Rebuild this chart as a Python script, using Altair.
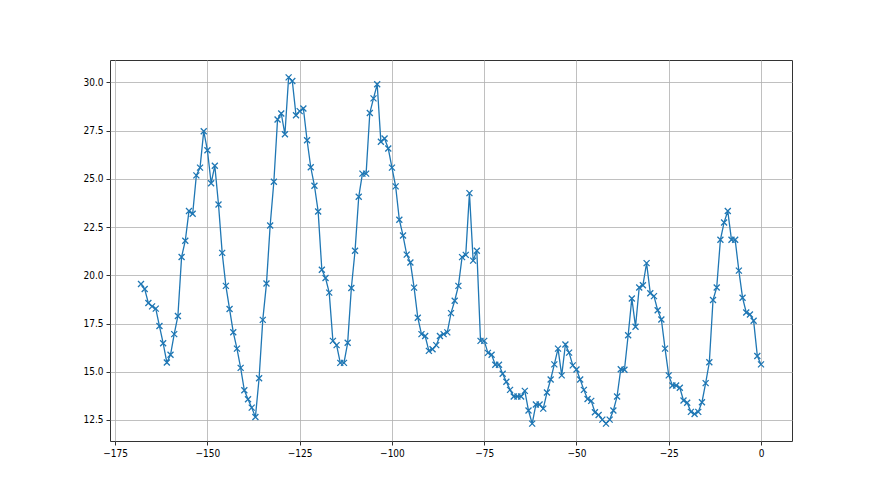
import altair as alt
import pandas as pd

x_vals = list(range(-168, 1))
y_vals = [
    19.55, 19.29, 18.56, 18.39, 18.27, 17.37, 16.48, 15.48, 15.88, 16.95,
    17.89, 20.95, 21.79, 23.33, 23.19, 25.18, 25.58, 27.47, 26.48, 24.77,
    25.68, 23.67, 21.16, 19.45, 18.25, 17.05, 16.20, 15.20, 14.04, 13.57,
    13.14, 12.65, 14.66, 17.69, 19.57, 22.58, 24.85, 28.08, 28.39, 27.31,
    30.26, 30.07, 28.30, 28.51, 28.65, 27.00, 25.60, 24.64, 23.31, 20.29,
    19.86, 19.10, 16.60, 16.38, 15.46, 15.46, 16.50, 19.34, 21.27, 24.07,
    25.27, 25.27, 28.41, 29.17, 29.90, 26.92, 27.09, 26.57, 25.58, 24.61,
    22.88, 22.06, 21.07, 20.66, 19.36, 17.80, 16.95, 16.85, 16.08, 16.17,
    16.38, 16.85, 16.95, 17.04, 18.04, 18.68, 19.45, 20.94, 21.06, 24.26,
    20.76, 21.27, 16.60, 16.60, 15.98, 15.88, 15.36, 15.36, 14.90, 14.48,
    14.06, 13.72, 13.72, 13.72, 14.01, 12.99, 12.31, 13.30, 13.30, 13.09,
    13.92, 14.60, 15.38, 16.20, 14.81, 16.41, 15.99, 15.33, 15.12, 14.60,
    14.06, 13.59, 13.49, 12.90, 12.76, 12.52, 12.31, 12.52, 12.99, 13.72,
    15.13, 15.10, 16.89, 18.80, 17.33, 19.37, 19.48, 20.63, 19.07, 18.92,
    18.19, 17.71, 16.20, 14.81, 14.29, 14.29, 14.17, 13.51, 13.39, 12.92,
    12.81, 12.92, 13.42, 14.41, 15.49, 18.72, 19.37, 21.84, 22.74, 23.33,
    21.84, 21.84, 20.24, 18.84, 18.07, 17.97, 17.64, 15.82, 15.38,
]
x_ticks = [-175, -150, -125, -100, -75, -50, -25, 0]
y_ticks = [12.5, 15.0, 17.5, 20.0, 22.5, 25.0, 27.5, 30.0]

df = pd.DataFrame({"x": x_vals, "y": y_vals})

color = "#1f77b4"
x_enc = alt.X("x:Q", scale=alt.Scale(domain=[-176.4, 8.4], nice=False, zero=False),
              axis=alt.Axis(values=x_ticks, title=None, format="d", labelFlush=False))
y_enc = alt.Y("y:Q", scale=alt.Scale(domain=[11.41, 31.16], nice=False, zero=False),
              axis=alt.Axis(values=y_ticks, title=None, format=".1f"))

base = alt.Chart(df).encode(x=x_enc, y=y_enc)
line = base.mark_line(color=color, strokeWidth=1.3)
pts = base.mark_point(shape="M-1,-1L1,1M-1,1L1,-1", size=36, filled=False,
                      color=color, strokeWidth=1.3, opacity=1)

chart = (line + pts).properties(
    width=682, height=381,
    autosize=alt.AutoSizeParams(type="none"),
    padding={"left": 102, "top": 52, "right": 80, "bottom": 46},
).configure_view(stroke="#333333", strokeWidth=1).configure_axis(
    grid=True, gridColor="#b0b0b0", gridWidth=0.8, domain=False,
    tickColor="#333333", tickSize=4, labelColor="black",
    labelFont="DejaVu Sans Condensed, Liberation Sans Narrow, DejaVu Sans",
    labelFontSize=10, labelPadding=3,
)

chart.save("out.html", embed_options={"renderer": "svg", "actions": False})
